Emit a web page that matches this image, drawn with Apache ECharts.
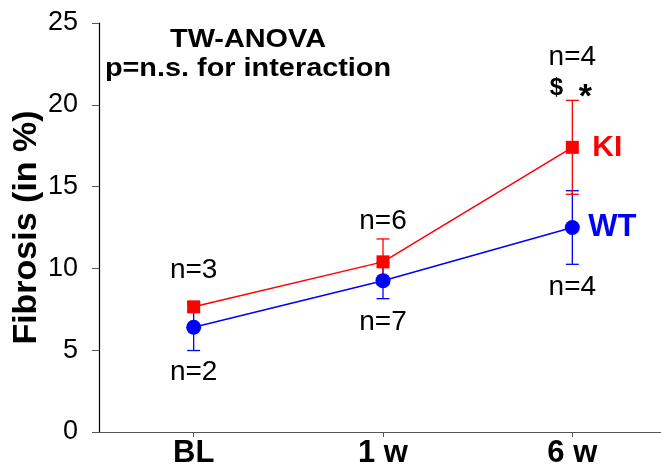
<!DOCTYPE html>
<html>
<head>
<meta charset="utf-8">
<script src="https://cdn.jsdelivr.net/npm/echarts@6/dist/echarts.min.js"></script>
<style>
html,body{margin:0;padding:0;background:#fff;}
#chart{width:661px;height:473px;}
</style>
</head>
<body>
<div id="chart"></div>
<script>
// ---- data ----
const categories = ['BL', '1 w', '6 w'];
const kiMean = [7.65, 10.4, 17.4];
const kiErr = [0.3, 1.4, 2.87];
const wtMean = [6.4, 9.25, 12.5];
const wtErr = [1.42, 1.1, 2.25];
const kiN = ['n=3', 'n=6', 'n=4'];
const wtN = ['n=2', 'n=7', 'n=4'];
const titleLines = ['TW-ANOVA', 'p=n.s. for interaction'];
const sigMarks = ['$', '*'];

// ---- styling ----
const FONT = '"Liberation Sans", Arial, Helvetica, sans-serif';
const RED = '#ff0000';
const BLUE = '#0000ff';
const kiLabelDy = [-37, -41, -90];
const wtLabelDy = [45, 42, 60];

function errSeries(name, mean, err, color) {
  return {
    type: 'custom',
    name: name + ' err',
    data: mean.map((m, i) => [i, m - err[i], m + err[i]]),
    encode: { x: 0, y: [1, 2] },
    silent: true,
    renderItem: function (params, api) {
      const i = api.value(0);
      const lo = api.coord([i, api.value(1)]);
      const hi = api.coord([i, api.value(2)]);
      const hw = 6.5;
      const st = { stroke: color, lineWidth: 1.3 };
      return {
        type: 'group',
        children: [
          { type: 'line', shape: { x1: lo[0], y1: lo[1], x2: hi[0], y2: hi[1] }, style: st },
          { type: 'line', shape: { x1: lo[0] - hw, y1: lo[1], x2: lo[0] + hw, y2: lo[1] }, style: st },
          { type: 'line', shape: { x1: hi[0] - hw, y1: hi[1], x2: hi[0] + hw, y2: hi[1] }, style: st }
        ]
      };
    }
  };
}

function lineSeries(name, mean, nLabels, dys, color, symbol, size, endDist, endSize) {
  return {
    type: 'line',
    name: name,
    symbol: symbol,
    symbolSize: size,
    showSymbol: true,
    lineStyle: { color: color, width: 1.5 },
    itemStyle: { color: color },
    data: mean.map((v, i) => ({
      value: v,
      label: {
        show: true,
        position: 'inside',
        offset: [0, dys[i]],
        formatter: nLabels[i],
        color: '#000',
        fontSize: 28,
        fontFamily: FONT
      }
    })),
    endLabel: {
      show: true,
      formatter: name,
      color: color,
      fontSize: endSize,
      fontWeight: 'bold',
      fontFamily: FONT,
      distance: endDist
    },
    animation: false
  };
}

const chart = echarts.init(document.getElementById('chart'), null, { renderer: 'canvas' });

const redLine = lineSeries('KI', kiMean, kiN, kiLabelDy, RED, 'rect', 13, 20, 30);
redLine.markPoint = {
  symbol: 'circle',
  symbolSize: 0,
  itemStyle: { color: 'transparent' },
  data: [
    { coord: [categories[2], kiMean[2]], label: { show: true, formatter: sigMarks[0], offset: [-16, -59], fontSize: 24, fontWeight: 'bold', color: '#000', fontFamily: FONT, position: 'inside' } },
    { coord: [categories[2], kiMean[2]], label: { show: true, formatter: sigMarks[1], offset: [13, -50], fontSize: 34, fontWeight: 'bold', color: '#000', fontFamily: FONT, position: 'inside' } }
  ]
};

chart.setOption({
  animation: false,
  grid: { left: 99, width: 568, top: 23, height: 409, containLabel: false, outerBoundsMode: 'none' },
  xAxis: {
    type: 'category',
    data: categories,
    boundaryGap: true,
    axisLine: { lineStyle: { color: '#555', width: 1.2 } },
    axisTick: { show: true, alignWithLabel: true, length: 5, lineStyle: { color: '#555' } },
    axisLabel: { color: '#000', fontSize: 31, fontWeight: 'bold', fontFamily: FONT, margin: 6 },
    splitLine: { show: false }
  },
  yAxis: {
    type: 'value',
    min: 0,
    max: 25,
    interval: 5,
    name: 'Fibrosis (in %)',
    nameLocation: 'middle',
    nameGap: 55,
    nameMoveOverlap: false,
    nameTextStyle: { color: '#000', fontSize: 34, fontWeight: 'bold', fontFamily: FONT },
    axisLine: { show: true, lineStyle: { color: '#000', width: 1.2 } },
    axisTick: { show: true, length: 7, lineStyle: { color: '#555' } },
    axisLabel: { color: '#000', fontSize: 27, fontFamily: FONT, margin: 21 },
    splitLine: { show: false }
  },
  graphic: [
    {
      type: 'text',
      x: 248, y: 25,
      scaleX: 1.11,
      style: {
        text: titleLines.join('\n'),
        fontSize: 26,
        fontWeight: 'bold',
        fontFamily: FONT,
        fill: '#000',
        align: 'center',
        verticalAlign: 'top',
        lineHeight: 29
      }
    }
  ],
  series: [
    errSeries('WT', wtMean, wtErr, BLUE),
    lineSeries('WT', wtMean, wtN, wtLabelDy, BLUE, 'circle', 15, 16, 31),
    errSeries('KI', kiMean, kiErr, RED),
    redLine
  ]
});
</script>
</body>
</html>
